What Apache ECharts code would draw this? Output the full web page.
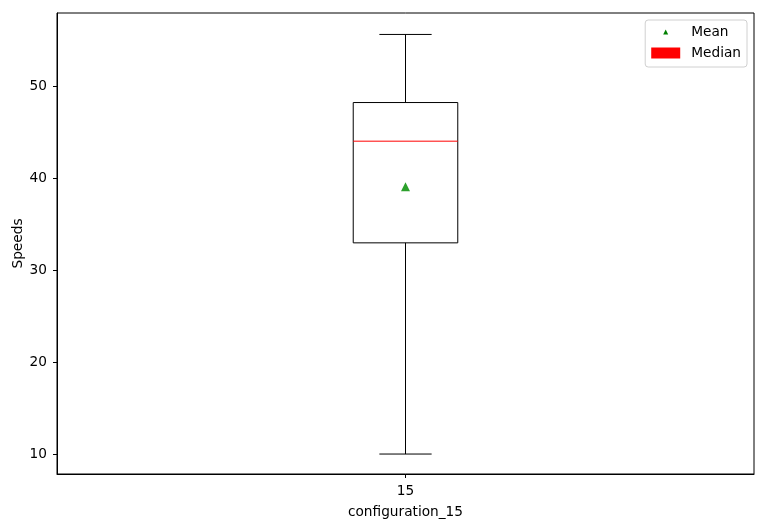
<!DOCTYPE html>
<html>
<head>
<meta charset="utf-8">
<script src="https://cdn.jsdelivr.net/npm/echarts@6/dist/echarts.min.js"></script>
<style>
html,body{margin:0;padding:0;background:#fff;}
#chart{width:767px;height:528px;}
</style>
</head>
<body>
<div id="chart"></div>
<script>
const categories = ['15'];
const whiskerLow = [10.0];
const q1 = [32.95];
const median = [44.0];
const q3 = [48.2];
const whiskerHigh = [55.6];
const mean = [39.05];
const yTicks = [10, 20, 30, 40, 50];

const boxData = categories.map((c, i) => [i, whiskerLow[i], q1[i], median[i], q3[i], whiskerHigh[i]]);
const meanData = categories.map((c, i) => [i, mean[i]]);

const FONT = 'DejaVu Sans';
const FS = 13.7;
const chart = echarts.init(document.getElementById('chart'), null, {renderer: 'canvas'});

chart.setOption({
  animation: false,
  backgroundColor: '#fff',
  grid: {left: 57, right: 13, top: 13, bottom: 54, containLabel: false, outerBoundsMode: 'none',
         show: true, borderColor: '#000', borderWidth: 1, backgroundColor: 'transparent'},
  xAxis: {
    type: 'category',
    data: categories,
    boundaryGap: true,
    name: 'configuration_15',
    nameLocation: 'middle',
    nameGap: 31,
    nameMoveOverlap: false,
    nameTextStyle: {color: '#000', fontFamily: FONT, fontSize: FS},
    axisLine: {show: true, onZero: false, lineStyle: {color: '#000', width: 1}},
    axisTick: {show: true, inside: false, alignWithLabel: true, length: 4, lineStyle: {color: '#000'}},
    axisLabel: {color: '#000', fontFamily: FONT, fontSize: FS, margin: 10},
    splitLine: {show: false}
  },
  yAxis: {
    type: 'value',
    min: 7.83,
    max: 57.93,
    name: 'Speeds',
    nameLocation: 'middle',
    nameGap: 32,
    nameMoveOverlap: false,
    nameTextStyle: {color: '#000', fontFamily: FONT, fontSize: FS},
    axisLine: {show: true, onZero: false, lineStyle: {color: '#000', width: 1}},
    axisTick: {show: true, inside: false, length: 4, lineStyle: {color: '#000'}, customValues: yTicks},
    axisLabel: {color: '#000', fontFamily: FONT, fontSize: FS, margin: 10, customValues: yTicks},
    splitLine: {show: false}
  },
  legend: {
    orient: 'vertical',
    right: 20,
    top: 20,
    padding: [5, 6, 7, 6],
    itemWidth: 29,
    itemHeight: 11,
    itemGap: 7,
    borderColor: '#d0d0d0',
    borderWidth: 1,
    borderRadius: 3,
    backgroundColor: 'rgba(255,255,255,0.8)',
    textStyle: {color: '#000', fontFamily: FONT, fontSize: FS, padding: [0, 0, 0, 6]},
    data: [
      {name: 'Mean', icon: 'path://M0,0M29,11M12,8L14.5,3L17,8Z', itemStyle: {color: 'green'}},
      {name: 'Median', icon: 'rect', itemStyle: {color: 'red'}}
    ]
  },
  series: [
    {
      name: 'Median',
      type: 'custom',
      itemStyle: {color: 'red'},
      data: boxData,
      encode: {x: 0, y: [1, 2, 3, 4, 5]},
      renderItem: function (params, api) {
        const idx = api.value(0);
        const band = api.size([1, 0])[0];
        const w = band * 0.15;
        const cap = w / 2;
        const pLow = api.coord([idx, api.value(1)]);
        const pQ1 = api.coord([idx, api.value(2)]);
        const pMed = api.coord([idx, api.value(3)]);
        const pQ3 = api.coord([idx, api.value(4)]);
        const pHigh = api.coord([idx, api.value(5)]);
        const x = pQ1[0];
        const ls = {stroke: '#000', lineWidth: 1};
        return {
          type: 'group',
          children: [
            {type: 'line', shape: {x1: x, y1: pLow[1], x2: x, y2: pQ1[1]}, style: ls},
            {type: 'line', shape: {x1: x, y1: pQ3[1], x2: x, y2: pHigh[1]}, style: ls},
            {type: 'line', shape: {x1: x - cap / 2, y1: pLow[1], x2: x + cap / 2, y2: pLow[1]}, style: ls},
            {type: 'line', shape: {x1: x - cap / 2, y1: pHigh[1], x2: x + cap / 2, y2: pHigh[1]}, style: ls},
            {type: 'rect', shape: {x: x - w / 2, y: pQ3[1], width: w, height: pQ1[1] - pQ3[1]}, style: {fill: 'none', stroke: '#000', lineWidth: 1}},
            {type: 'line', shape: {x1: x - w / 2, y1: pMed[1], x2: x + w / 2, y2: pMed[1]}, style: {stroke: 'red', lineWidth: 1}}
          ]
        };
      }
    },
    {
      name: 'Mean',
      type: 'scatter',
      data: meanData,
      symbol: 'triangle',
      symbolSize: [9, 9],
      itemStyle: {color: '#2ca02c', opacity: 1},
      z: 5
    }
  ]
});
</script>
</body>
</html>
